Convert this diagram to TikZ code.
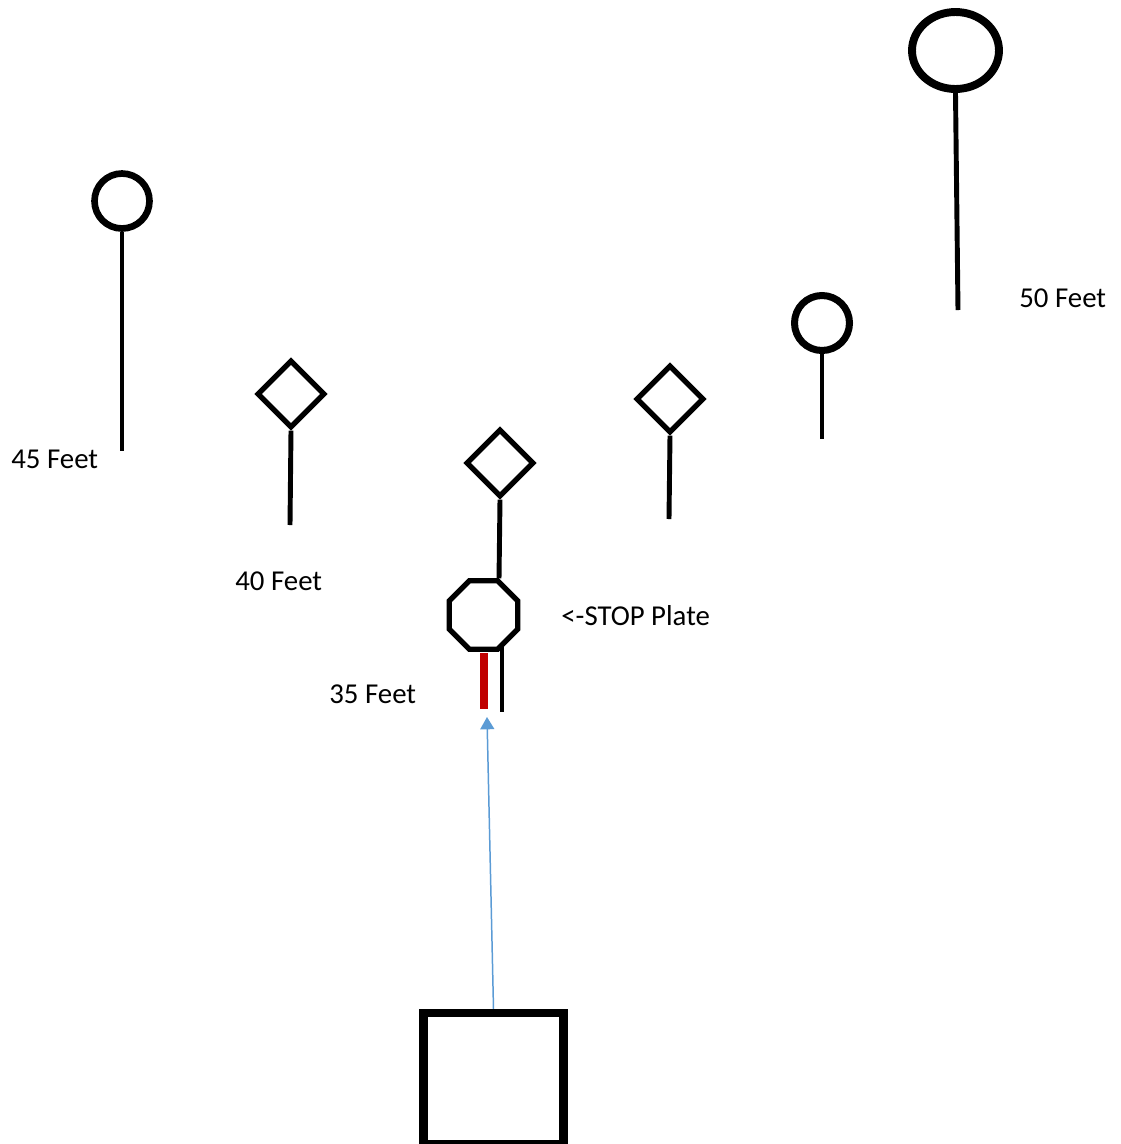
\documentclass[tikz,border=0pt]{standalone}
\usepackage{fontspec}
\setmainfont{Carlito}
\usetikzlibrary{shapes.geometric,arrows.meta}
\definecolor{stopred}{RGB}{192,0,0}
\definecolor{pathblue}{RGB}{91,155,213}

\begin{document}
\begin{tikzpicture}[x=0.02cm,y=-0.02cm,>={Triangle[width=8pt,length=7pt]},
  ring/.style={circle,draw,inner sep=0pt,minimum size=1.1cm,line width=4pt},
  rhomb/.style={diamond,draw,inner sep=0pt,minimum size=1.36cm,line width=3pt},
  stem/.style={line width=2.8pt},
  lbl/.style={anchor=base west,inner sep=0pt,font=\fontsize{16.4}{19}\selectfont}]
\useasboundingbox (0,0) rectangle (1121,1144);
% markers
\node[ring,line width=3.8pt] (ringA) at (122,201) {};
\node[ring] (ringB) at (822,323) {};
\node[ring,ellipse,minimum width=1.74cm,minimum height=1.54cm,line width=4.5pt] (ringC) at (955.5,50.5) {};
\node[rhomb] (rhombA) at (291,394) {};
\node[rhomb] (rhombB) at (500,463) {};
\node[rhomb] (rhombC) at (670,399) {};
\node[regular polygon,regular polygon sides=8,draw,inner sep=0pt,minimum size=1.48cm,line width=3pt] (plate) at (483.5,615) {};
\node[rectangle,draw,inner sep=0pt,minimum width=2.8cm,minimum height=2.62cm,line width=4.8pt] (home) at (493.5,1078.5) {};
% stems
\foreach \n/\x/\y in {ringA/122/451,ringB/822/439,ringC/958/310,rhombA/290/525,rhombC/669/519}{
  \coordinate (\n-foot) at (\x,\y);
  \draw[stem] (\n.south) -- (\n-foot);
}
\coordinate (plate-foot) at (502,712);
\draw[stem] (rhombB.south) -- (plate.67.5);
\draw[stem] (plate-foot |- plate.-50) -- (plate-foot);
% red mark and throw line
\coordinate (bar-top) at (484,653);
\coordinate (bar-bot) at (484,709);
\coordinate (aim) at (487,717);
\draw[stopred,line width=4.5pt] (bar-top) -- (bar-bot);
\draw[->,pathblue,line width=0.85pt] (home.north) -- (aim);
% labels
\node[lbl] (lbl45) at (11,468) {45 Feet};
\node[lbl] (lbl40) at (235,590) {40 Feet};
\node[lbl] (lbl35) at (329,703) {35 Feet};
\node[lbl] (lbl50) at (1019,307) {50 Feet};
\node[lbl] (lblstop) at (561,625) {<-STOP Plate};
\end{tikzpicture}
\end{document}
